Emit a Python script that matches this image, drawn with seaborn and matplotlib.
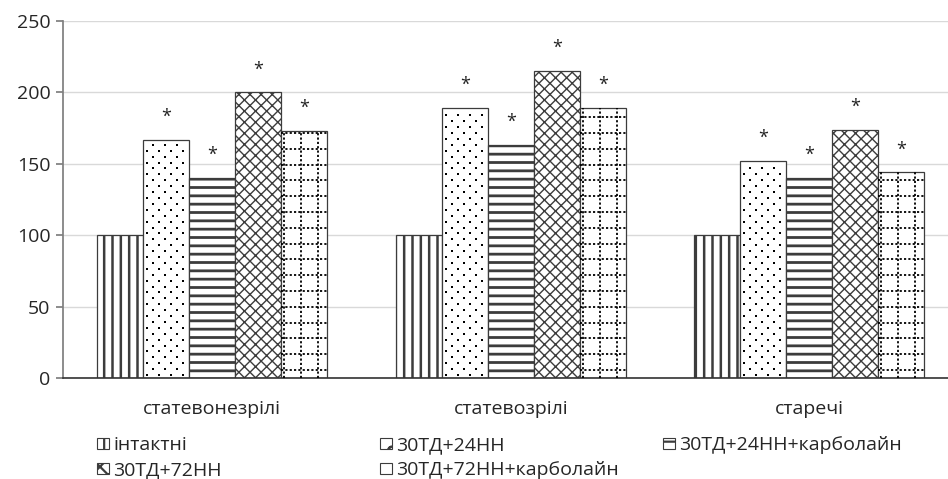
import numpy as np
import pandas as pd
import seaborn as sns
import matplotlib.pyplot as plt
import matplotlib.patches as mpatches

# data
categories = ['статевонезрілі', 'статевозрілі', 'старечі']
series = ['інтактні', '30ТД+24НН', '30ТД+24НН+карболайн', '30ТД+72НН', '30ТД+72НН+карболайн']
intact = [100, 100, 100]
td24 = [167, 189, 152]
td24_carb = [140, 163, 140]
td72 = [200, 215, 174]
td72_carb = [173, 189, 144]
significant = [False, True, True, True, True]
yticks = [0, 50, 100, 150, 200, 250]

values = [intact, td24, td24_carb, td72, td72_carb]
df = pd.DataFrame({
    'group': np.repeat(series, len(categories)),
    'age': categories * len(series),
    'value': np.concatenate(values),
})

sns.set_theme(style='white')
plt.rcParams['font.family'] = ['Open Sans', 'DejaVu Sans']
plt.rcParams['hatch.linewidth'] = 1.6
plt.rcParams['hatch.color'] = 'black'

W, H = 948, 479
fig = plt.figure(figsize=(W / 100, H / 100), dpi=100)
ax = fig.add_axes([63 / W, 101 / H, 895.5 / W, 357 / H])

edge = '#3c3c3c'
sns.barplot(data=df, x='age', y='value', hue='group', order=categories,
            hue_order=series, palette=['white'] * 5, width=0.77, gap=0,
            edgecolor=edge, linewidth=0.9, legend=False, ax=ax)

hatches = ['||', '', '--', 'xxx', '']
hatch_lw = [1.8, 1.0, 2.0, 1.0, 1.0]
for cont, hatch, hlw in zip(ax.containers, hatches, hatch_lw):
    for p in cont.patches:
        p.set_hatch(hatch)
        if hasattr(p, 'set_hatch_linewidth'):
            p.set_hatch_linewidth(hlw)

ax.set_ylim(0, 250)
ax.set_xlim(-0.5, 2.5)

# pixel sizes converted to data units
px_x = 1 / 298.5
px_y = 250 / 357

# dotted grid fill of the last series
for p in ax.containers[4].patches:
    x0, w, h = p.get_x(), p.get_width(), p.get_height()
    for xv in np.arange(x0 + 3 * px_x, x0 + w, 17 * px_x):
        ln, = ax.plot([xv, xv], [0, h], color='black', lw=1.3,
                      ls=(0, (1.2, 1.2)), zorder=3)
        ln.set_clip_path(p)
    for yv in np.arange(8 * px_y, h, 15.8 * px_y):
        ln, = ax.plot([x0, x0 + w], [yv, yv], color='black', lw=1.3,
                      ls=(0, (1.2, 1.2)), zorder=3)
        ln.set_clip_path(p)

# staggered square dots of the second series
for p in ax.containers[1].patches:
    x0, w, h = p.get_x(), p.get_width(), p.get_height()
    xs, ys = [], []
    for r, yv in enumerate(np.arange(3 * px_y, h - 2 * px_y, 5.9 * px_y)):
        start = x0 + (4 if r % 2 == 0 else 10) * px_x
        for xv in np.arange(start, x0 + w - 2 * px_x, 12 * px_x):
            xs.append(xv)
            ys.append(yv)
    ax.scatter(xs, ys, marker='s', s=4.5, color='black', lw=0, zorder=3)

# asterisks above bars
for cont, sig in zip(ax.containers, significant):
    if not sig:
        continue
    for p in cont.patches:
        ax.annotate('*', (p.get_x() + p.get_width() / 2, p.get_height()),
                    xytext=(0, 16.5), textcoords='offset points',
                    ha='center', va='center', fontsize=13, color='#222222')

ax.set_yticks(yticks)
ax.grid(axis='y', color='#d9d9d9', lw=1)
ax.set_axisbelow(True)
ax.set_xlabel('')
ax.set_ylabel('')
for s in ['top', 'right']:
    ax.spines[s].set_visible(False)
ax.spines['left'].set_color('#7f7f7f')
ax.spines['bottom'].set_color('#333333')
ax.spines['bottom'].set_linewidth(1.2)
ax.tick_params(axis='y', length=5, color='#7f7f7f', labelsize=14,
               labelcolor='#262626', pad=4, left=True)
ax.tick_params(axis='x', length=0, labelsize=14, labelcolor='#262626', pad=16)

# legend: three columns placed like in the reference
handles = [mpatches.Patch(facecolor='white', edgecolor=edge, lw=0.8, hatch=h)
           for h in ['||', 'o', '-', 'xx', '']]
cols = [(97, [0, 3]), (380, [1, 4]), (663, [2])]
for xpx, idx in cols:
    leg = fig.legend([handles[i] for i in idx], [series[i] for i in idx],
                     loc='upper left', bbox_to_anchor=(xpx / W, 1 - 436 / H),
                     frameon=False, fontsize=14, handlelength=0.6,
                     handleheight=0.5, handletextpad=0.25, labelspacing=0.38,
                     borderpad=0, borderaxespad=0)
    for t in leg.get_texts():
        t.set_color('#262626')

fig.savefig('out.png', dpi=100)
